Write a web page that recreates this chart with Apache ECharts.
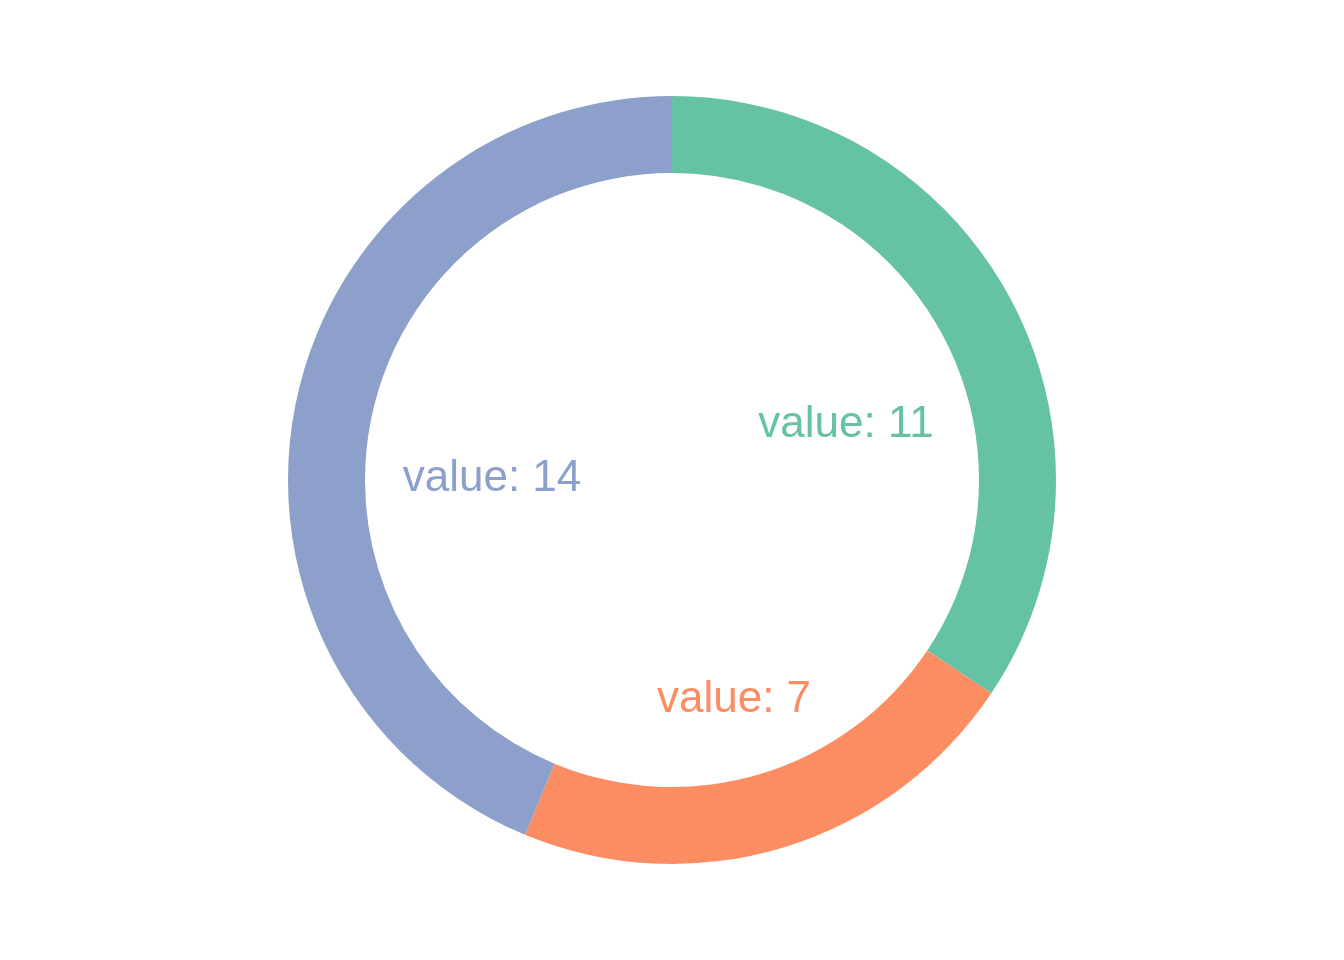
<!DOCTYPE html>
<html>
<head>
<meta charset="utf-8">
<script src="https://cdn.jsdelivr.net/npm/echarts@6/dist/echarts.min.js"></script>
<style>html,body{margin:0;padding:0;background:#fff}#c{width:1344px;height:960px}</style>
</head>
<body>
<div id="c"></div>
<script>
const categories = ['A', 'B', 'C'];
const values = [11, 7, 14];
const colors = ['#66C2A5', '#FC8D62', '#8DA0CB'];
// label placement offsets from the donut centre (px)
const labelOffsets = [[174, -55], [62, 220], [-180, -1]];

const chart = echarts.init(document.getElementById('c'), null, {renderer: 'canvas'});
const cx = 672, cy = 480;
chart.setOption({
  backgroundColor: '#ffffff',
  animation: false,
  series: [{
    type: 'pie',
    center: [cx, cy],
    radius: [307, 384],
    startAngle: 90,
    clockwise: true,
    avoidLabelOverlap: false,
    data: categories.map((c, i) => ({
      name: c,
      value: values[i],
      itemStyle: {color: colors[i]},
      label: {color: colors[i]}
    })),
    itemStyle: {borderWidth: 0},
    emphasis: {disabled: true},
    label: {
      show: true,
      position: 'inside',
      formatter: p => 'value: ' + p.value,
      fontFamily: 'Liberation Sans, Arial, sans-serif',
      fontSize: 44,
      align: 'center',
      verticalAlign: 'middle'
    },
    labelLine: {show: false},
    labelLayout: p => ({
      x: cx + labelOffsets[p.dataIndex][0],
      y: cy + labelOffsets[p.dataIndex][1],
      align: 'center',
      verticalAlign: 'middle'
    })
  }]
});
</script>
</body>
</html>
